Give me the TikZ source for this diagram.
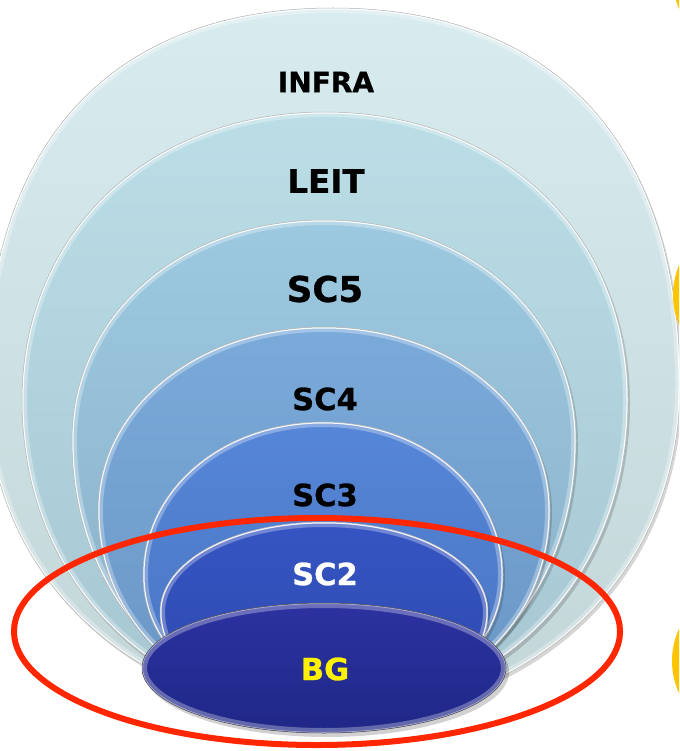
\documentclass[tikz,border=0pt]{standalone}
\usepackage{fontspec}
\setmainfont{DejaVu Sans}
\newfontfamily\lblfont[FakeBold=0.8]{DejaVu Sans Bold}
\definecolor{infraT}{HTML}{D8ECF0}
\definecolor{infraB}{HTML}{C2D5D7}
\definecolor{leitT}{HTML}{BADDE6}
\definecolor{leitB}{HTML}{A6C6D2}
\definecolor{scfiveT}{HTML}{9CC9E0}
\definecolor{scfiveB}{HTML}{8AB0C8}
\definecolor{scfourT}{HTML}{7AAADA}
\definecolor{scfourB}{HTML}{6A96C4}
\definecolor{scthreeT}{HTML}{5686D8}
\definecolor{scthreeB}{HTML}{4874C0}
\definecolor{sctwoT}{HTML}{3655C2}
\definecolor{sctwoB}{HTML}{2D48AE}
\definecolor{bgT}{HTML}{2C32A0}
\definecolor{bgB}{HTML}{1F2787}
\definecolor{redring}{HTML}{FF2600}
\definecolor{gold}{HTML}{FFC400}
\newcommand\eggpath[6]{%
  (#1,#5) .. controls ({#1-0.55*#3},#5) and ({#1-#3},{#4+0.6*(#5-#4)}) .. ({#1-#3},#4)
  .. controls ({#1-#3},{#4-#6*(#4-#2)}) and ({#1-#6*#3},#2) .. (#1,#2)
  .. controls ({#1+#6*#3},#2) and ({#1+#3},{#4-#6*(#4-#2)}) .. ({#1+#3},#4)
  .. controls ({#1+#3},{#4+0.6*(#5-#4)}) and ({#1+0.55*#3},#5) .. (#1,#5) -- cycle}
\newcommand\drawegg[8]{%
  \fill[black,opacity=0.16,xshift=2pt,yshift=-3pt] \eggpath{#1}{#2}{#3}{#4}{#5}{#6};
  \shade[top color=#7,bottom color=#8] \eggpath{#1}{#2}{#3}{#4}{#5}{#6};
  \begin{scope}
    \clip \eggpath{#1}{#2}{#3}{#4}{#5}{#6};
    \draw[white,opacity=0.3,line width=10pt] \eggpath{#1}{#2}{#3}{#4}{#5}{#6};
    \draw[white,opacity=0.9,line width=3pt] \eggpath{#1}{#2}{#3}{#4}{#5}{#6};
  \end{scope}
  \draw[gray!60,line width=0.5pt] \eggpath{#1}{#2}{#3}{#4}{#5}{#6};
}
\tikzset{
  lbl/.style={text=black, inner sep=0pt},
}
\begin{document}
\begin{tikzpicture}[x=1pt,y=-1pt]
\useasboundingbox (0,0) rectangle (679,751);
\clip (0,0) rectangle (679,751);
\fill[white] (0,0) rectangle (679,751);
% nested shapes
\drawegg{333}{8}{347}{385}{715}{0.64}{infraT}{infraB}
\drawegg{325}{112}{303}{400}{712}{0.58}{leitT}{leitB}
\drawegg{324}{220}{252}{440}{712}{0.57}{scfiveT}{scfiveB}
\drawegg{324}{327}{226}{510}{712}{0.56}{scfourT}{scfourB}
\drawegg{323}{422}{180}{575}{712}{0.56}{scthreeT}{scthreeB}
\drawegg{324}{522}{164}{612}{712}{0.56}{sctwoT}{sctwoB}
% BG ellipse
\fill[black,opacity=0.18] (327,672) ellipse [x radius=182, y radius=65];
\shade[top color=bgT,bottom color=bgB] (324,668) ellipse [x radius=182, y radius=65];
\begin{scope}
  \clip (324,668) ellipse [x radius=182, y radius=65];
  \draw[white,opacity=0.3,line width=10pt] (324,668) ellipse [x radius=182, y radius=65];
  \draw[white!70!bgT,opacity=0.8,line width=2pt] (324,668) ellipse [x radius=182, y radius=65];
\end{scope}
\draw[gray!60!black,line width=0.5pt] (324,668) ellipse [x radius=182, y radius=65];
% labels
\node[lbl,font=\lblfont\fontsize{28}{30}\selectfont] (infra) at (326,82) {INFRA};
\node[lbl,font=\lblfont\fontsize{32.5}{35}\selectfont] (leit) at (326,181) {LEIT};
\node[lbl,font=\lblfont\fontsize{35.5}{38}\selectfont] (scfive) at (325,289) {SC5};
\node[lbl,font=\lblfont\fontsize{30.5}{33}\selectfont] (scfour) at (325,399) {SC4};
\node[lbl,font=\lblfont\fontsize{30.5}{33}\selectfont] (scthree) at (325,495) {SC3};
\node[lbl,font=\lblfont\fontsize{30.5}{33}\selectfont,text=white] (sctwo) at (325,574) {SC2};
\node[lbl,font=\lblfont\fontsize{30.5}{33}\selectfont,text=yellow] (bg) at (325,669) {BG};
% red ring
\draw[redring,line width=6pt] (317,631.5) ellipse [x radius=303, y radius=113.5];
% yellow partial circles at right edge
\fill[gold] (750,-21) circle [radius=77];
\fill[gold] (751,295) circle [radius=78];
\fill[gold] (749,661) circle [radius=77];
\end{tikzpicture}
\end{document}
